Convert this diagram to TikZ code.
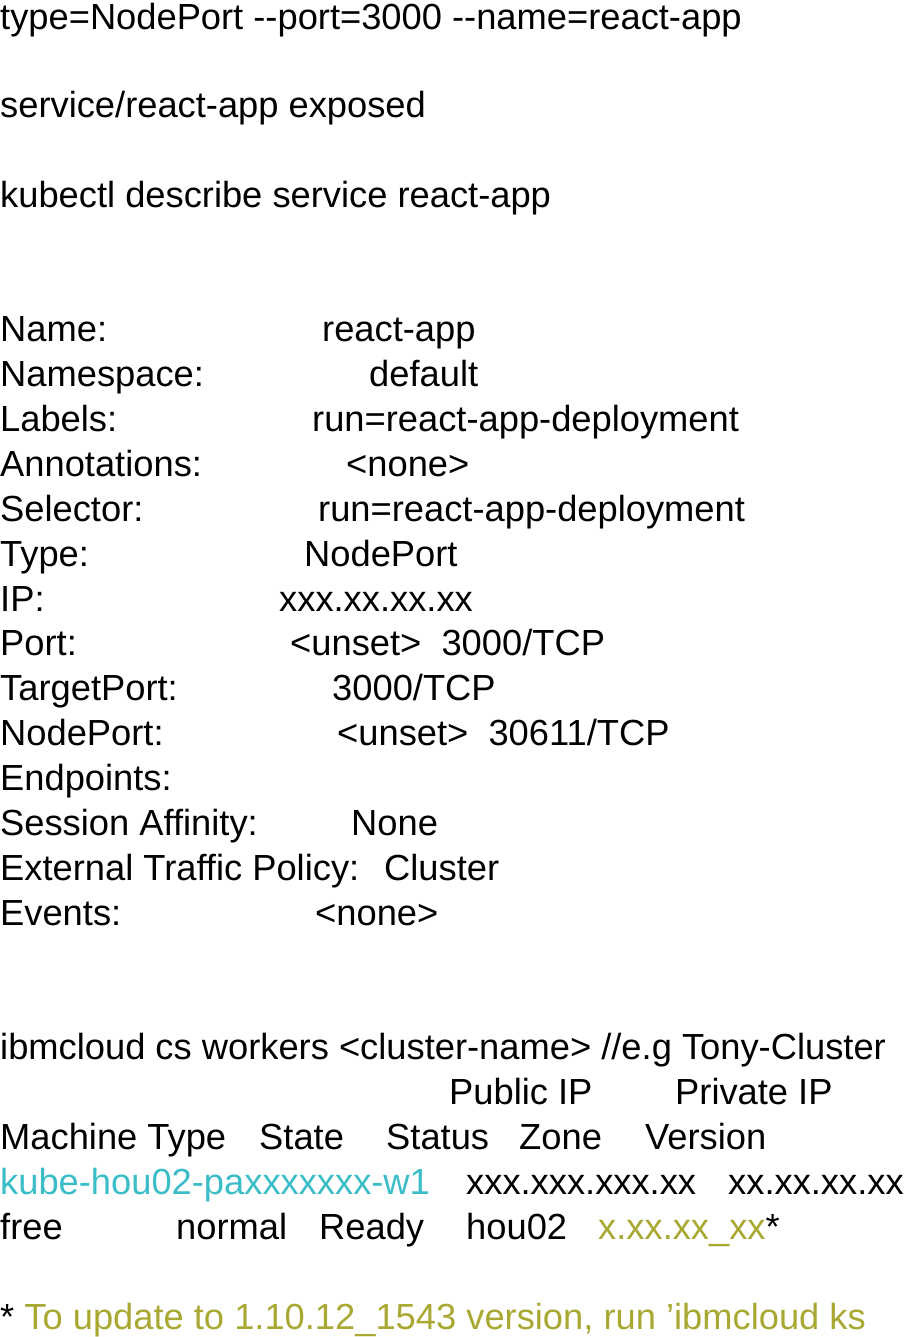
\documentclass[tikz,border=0pt]{standalone}
\usepackage{fontspec}
\setmainfont{Liberation Sans}[Ligatures=NoCommon]
\definecolor{cy}{HTML}{3BBDC8}
\definecolor{ol}{HTML}{A8A832}
\begin{document}
\begin{tikzpicture}[x=1pt,y=-1pt,t/.style={anchor=base west,inner sep=0pt,font=\fontsize{36.3}{40}\selectfont}]
\useasboundingbox (0,0) rectangle (905,1337);
\clip (0,0) rectangle (905,1337);
\def\b{12.5}
\node[t] (l1) at (0,17+\b) {type=NodePort -{}-port=3000 -{}-name=react-app};
\node[t] (l2) at (0,105+\b) {service/react-app exposed};
\node[t] (l3) at (0,195+\b) {kubectl describe service react-app};
\foreach \k/\yy/\xx/\v [count=\i] in {Name:/329/322/react-app, Namespace:/374/369/default, Labels:/419/312/run=react-app-deployment, Annotations:/464/346/{<none>}, Selector:/509/318/run=react-app-deployment, Type:/554/304/NodePort, IP:/599/279/xxx.xx.xx.xx, Port:/643/290/{<unset>\ \ 3000/TCP}, TargetPort:/688/332/{3000/TCP}, NodePort:/733/337/{<unset>\ \ 30611/TCP}, Session Affinity:/823/351/None, External Traffic Policy:/868/384/Cluster, Events:/913/315/{<none>}}{
  \node[t] (k\i) at (0,\yy+\b) {\k};
  \node[t] (v\i) at (\xx,\yy+\b) {\v};
}
\node[t] (ep) at (0,778+\b) {Endpoints:};
\node[t] (w1) at (0,1047+\b) {ibmcloud cs workers <cluster-name> //e.g Tony-Cluster};
\node[t] (h1) at (449,1092+\b) {Public IP};
\node[t] (h2) at (675,1092+\b) {Private IP};
\node[t] (h3) at (0,1137+\b) {Machine Type};
\node[t] (h4) at (259,1137+\b) {State};
\node[t] (h5) at (386,1137+\b) {Status};
\node[t] (h6) at (519,1137+\b) {Zone};
\node[t] (h7) at (645,1137+\b) {Version};
\node[t,text=cy] (r1) at (0,1182+\b) {kube-hou02-paxxxxxxx-w1};
\node[t] (r2) at (466,1182+\b) {xxx.xxx.xxx.xx};
\node[t] (r3) at (728,1182+\b) {xx.xx.xx.xx};
\node[t] (s1) at (0,1227+\b) {free};
\node[t] (s2) at (176,1227+\b) {normal};
\node[t] (s3) at (319,1227+\b) {Ready};
\node[t] (s4) at (466,1227+\b) {hou02};
\node[t] (s5) at (598,1227+\b) {\textcolor{ol}{x.xx.xx\_xx}*};
\node[t] (n1) at (0,1317+\b) {* \textcolor{ol}{To update to 1.10.12\_1543 version, run \symbol{39}ibmcloud ks}};
\end{tikzpicture}
\end{document}
